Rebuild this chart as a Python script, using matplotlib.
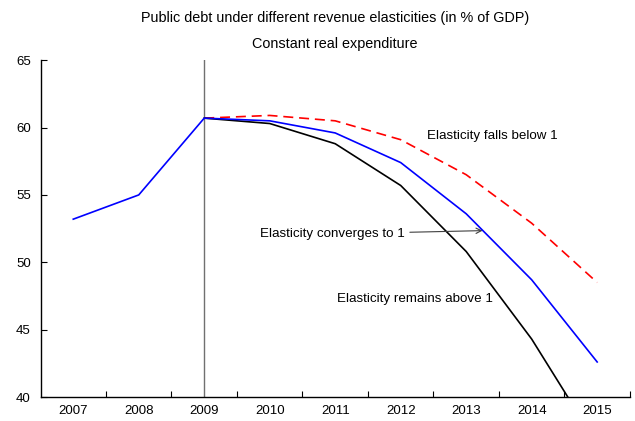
import matplotlib.pyplot as plt

plt.rcParams['font.family'] = ['Liberation Sans', 'DejaVu Sans']

years = ['2007', '2008', '2009', '2010', '2011', '2012', '2013', '2014', '2015']
converges = [53.2, 55.0, 60.7, 60.5, 59.6, 57.4, 53.6, 48.7, 42.6]
above = [None, None, 60.7, 60.3, 58.8, 55.7, 50.8, 44.3, 36.5]
below = [None, None, 60.7, 60.9, 60.5, 59.1, 56.5, 52.9, 48.5]


def series(vals):
    xs = [i for i, v in enumerate(vals) if v is not None]
    ys = [v for v in vals if v is not None]
    return xs, ys


fig = plt.figure(figsize=(6.35, 4.21), dpi=100)
ax = fig.add_axes([0.0638, 0.057, 0.9282, 0.800])

ax.axvline(2, color='#707070', lw=1.0, zorder=1)

x, y = series(below)
ax.plot(x, y, color='#ff0000', lw=1.2, dashes=(6, 3.5), zorder=3)
x, y = series(above)
ax.plot(x, y, color='black', lw=1.2, zorder=3)
x, y = series(converges)
ax.plot(x, y, color='#0000ff', lw=1.2, zorder=4)

ax.set_xlim(-0.5, len(years) - 0.5)
ax.set_ylim(40, 65)
ax.set_yticks([40, 45, 50, 55, 60, 65])
ax.set_xticks(range(len(years)))
ax.set_xticklabels(years)
ax.set_xticks([i + 0.5 for i in range(len(years))], minor=True)
ax.tick_params(axis='x', which='major', length=0, labelsize=9.5, pad=6)
ax.tick_params(axis='x', which='minor', direction='in', length=4, width=0.8)
ax.tick_params(axis='y', direction='in', length=4, width=0.8, labelsize=9.5, pad=7)

for s in ['top', 'right']:
    ax.spines[s].set_visible(False)
for s in ['left', 'bottom']:
    ax.spines[s].set_linewidth(1.0)

ax.text(5.4, 59.4, 'Elasticity falls below 1', fontsize=9.6, va='center')
ax.text(6.4, 47.3, 'Elasticity remains above 1', fontsize=9.6, va='center', ha='right')
ax.annotate('Elasticity converges to 1', xy=(6.25, 52.35), xytext=(3.95, 52.1),
            fontsize=9.6, va='center', ha='center',
            arrowprops=dict(arrowstyle='->', color='#404040', lw=0.8,
                            shrinkA=2, shrinkB=0))

fig.text(0.527, 0.957, 'Public debt under different revenue elasticities (in % of GDP)',
         ha='center', va='center', fontsize=10.4)
fig.text(0.527, 0.895, 'Constant real expenditure', ha='center', va='center', fontsize=10.4)

fig.savefig('out.png', dpi=100)
